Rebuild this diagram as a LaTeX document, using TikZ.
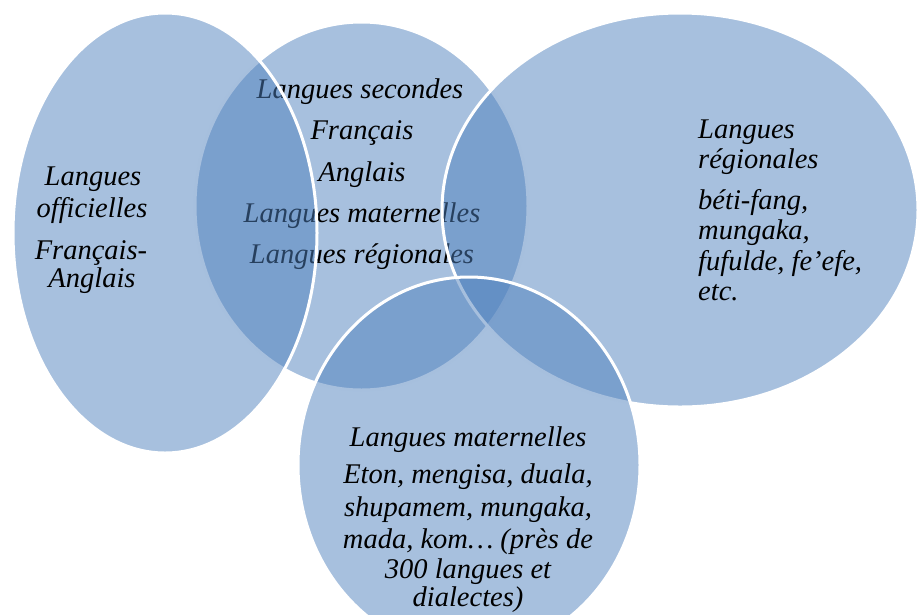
\documentclass[tikz,border=0pt]{standalone}
\usepackage{fontspec}
\setmainfont{Liberation Serif}
\usetikzlibrary{shapes.geometric}
\definecolor{vblue}{RGB}{79,129,189}
\begin{document}
\begin{tikzpicture}[x=1pt,y=-1pt,
  setel/.style={ellipse, draw=white, line width=3pt, fill=vblue, fill opacity=0.5, draw opacity=1, inner sep=0pt, outer sep=0pt},
  lbl/.style={font=\fontsize{28.5}{30}\selectfont\itshape, inner sep=0pt, anchor=base, text=black},
  lblw/.style={lbl, anchor=base west}]
\useasboundingbox (0,0) rectangle (920,614);
\clip (0,0) rectangle (920,614);
% second languages
\node[setel, minimum width=333pt, minimum height=368pt] (sec) at (361.5,206) {};
\node[lbl] (s1) at (360,98) {Langues secondes};
\node[lbl] (s2) at (362,139) {Français};
\node[lbl] (s3) at (362,181) {Anglais};
\node[lbl] (s4) at (362,222) {Langues maternelles};
\node[lbl] (s5) at (362,263) {Langues régionales};
% regional languages
\node[setel, minimum width=476pt, minimum height=394pt] (reg) at (680,210) {};
\node[lblw] (r1) at (698,138) {Langues};
\node[lblw] (r2) at (698,168) {régionales};
\node[lblw] (r3) at (698,209) {béti-fang,};
\node[lblw] (r4) at (698,239) {mungaka,};
\node[lblw] (r5) at (698,270) {fufulde, fe'efe,};
\node[lblw] (r6) at (698,300) {etc.};
% mother tongues
\node[setel, minimum width=342pt, minimum height=376pt] (mat) at (469,465) {};
\node[lbl] (m1) at (468,446) {Langues maternelles};
\node[lbl] (m2) at (468,483) {Eton, mengisa, duala,};
\node[lbl] (m3) at (468,516) {shupamem, mungaka,};
\node[lbl] (m4) at (468,548) {mada, kom… (près de};
\node[lbl] (m5) at (468,578) {300 langues et};
\node[lbl] (m6) at (468,606) {dialectes)};
% official languages
\node[setel, minimum width=304pt, minimum height=440pt] (off) at (165,233) {};
\node[lbl] (o1) at (93,185) {Langues};
\node[lbl] (o2) at (92,217) {officielles};
\node[lbl] (o3) at (91,259) {Français-};
\node[lbl] (o4) at (92,287) {Anglais};
\end{tikzpicture}
\end{document}
